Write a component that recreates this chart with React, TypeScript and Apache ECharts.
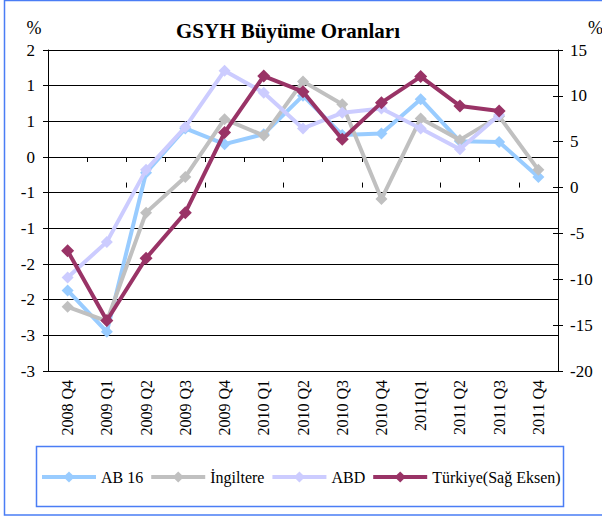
import React, { useEffect, useRef } from "react";
import * as echarts from "echarts";

const categories = ["2008 Q4", "2009 Q1", "2009 Q2", "2009 Q3", "2009 Q4", "2010 Q1", "2010 Q2", "2010 Q3", "2010 Q4", "2011Q1", "2011 Q2", "2011 Q3", "2011 Q4"];
const ab16 = [-1.87, -2.45, -0.22, 0.4, 0.18, 0.32, 0.86, 0.31, 0.33, 0.81, 0.22, 0.21, -0.28];
const ingiltere = [-2.1, -2.3, -0.78, -0.28, 0.53, 0.3, 1.06, 0.74, -0.59, 0.54, 0.24, 0.57, -0.18];
const abd = [-1.69, -1.19, -0.18, 0.42, 1.21, 0.9, 0.4, 0.62, 0.68, 0.4, 0.11, 0.59, null];
const turkiye = [-6.9, -14.5, -7.7, -2.74, 6.0, 12.16, 10.45, 5.26, 9.26, 12.1, 8.9, 8.35, null];

const seriesNames = ["AB 16", "İngiltere", "ABD", "Türkiye(Sağ Eksen)"];
const seriesColors = ["#99CCFF", "#C0C0C0", "#CCCCFF", "#993366"];

const FONT = "'Liberation Serif', 'Times New Roman', serif";

function leftFmt(v: number) {
  const r = Math.sign(v) * Math.round(Math.abs(v));
  return String(r === 0 ? 0 : r);
}

export default function App() {
  const ref = useRef<HTMLDivElement>(null);
  useEffect(() => {
    if (!ref.current) return;
    const chart = echarts.init(ref.current, null, { renderer: "svg" });
    const values = [ab16, ingiltere, abd, turkiye];
    chart.setOption({
      animation: false,
      textStyle: { fontFamily: FONT },
      grid: { left: 48, right: 44, top: 50, bottom: 150, containLabel: false },
      graphic: [
        {
          type: "rect",
          shape: { x: 4.5, y: 0.5, width: 640, height: 514.5 },
          style: { fill: "none", stroke: "#4A7DF5", lineWidth: 1.5 },
          silent: true,
        },
        {
          type: "rect",
          shape: { x: 36.5, y: 446.5, width: 527, height: 60 },
          style: { fill: "none", stroke: "#4A7DF5", lineWidth: 1.5 },
          silent: true,
        },
        {
          type: "text",
          x: 288,
          y: 31,
          style: { text: "GSYH Büyüme Oranları", font: `bold 21px ${FONT}`, fill: "#000", textAlign: "center", textVerticalAlign: "middle" },
        },
        {
          type: "text",
          x: 34,
          y: 28,
          style: { text: "%", font: `18px ${FONT}`, fill: "#000", textAlign: "center", textVerticalAlign: "middle" },
        },
        {
          type: "text",
          x: 588,
          y: 28,
          style: { text: "%", font: `18px ${FONT}`, fill: "#000", textAlign: "left", textVerticalAlign: "middle" },
        },
      ],
      legend: {
        left: 40,
        top: 469,
        padding: 0,
        itemWidth: 54,
        itemHeight: 14,
        itemGap: 6,
        data: seriesNames,
        lineStyle: { width: 4 },
        textStyle: { fontFamily: FONT, fontSize: 16, color: "#000" },
      },
      xAxis: [
        {
          type: "category",
          data: categories,
          boundaryGap: true,
          axisLine: { show: true, lineStyle: { color: "#000", width: 1 } },
          axisTick: { show: true, inside: false, length: 5, lineStyle: { color: "#000" } },
          axisLabel: { rotate: 90, fontSize: 16, fontFamily: FONT, color: "#000", margin: 9, interval: 0 },
          splitLine: { show: false },
        },
        {
          type: "category",
          data: categories,
          position: "bottom",
          boundaryGap: true,
          axisLine: { show: false },
          axisTick: { show: true, inside: true, length: 5, lineStyle: { color: "#000" } },
          axisLabel: { show: false },
          splitLine: { show: false },
        },
      ],
      yAxis: [
        {
          type: "value",
          position: "left",
          min: -3,
          max: 1.5,
          interval: 0.5,
          axisLine: { show: true, lineStyle: { color: "#000", width: 1 } },
          axisTick: { show: true, inside: false, length: 5, lineStyle: { color: "#000" } },
          axisLabel: { fontSize: 17, fontFamily: FONT, color: "#000", margin: 13, formatter: leftFmt },
          splitLine: { show: true, lineStyle: { color: "#000", width: 1 } },
        },
        {
          type: "value",
          position: "right",
          min: -20,
          max: 15,
          interval: 5,
          axisLine: { show: true, lineStyle: { color: "#000", width: 1 } },
          axisTick: { show: true, inside: false, length: 5, lineStyle: { color: "#000" } },
          axisLabel: { fontSize: 17, fontFamily: FONT, color: "#000", margin: 12 },
          splitLine: { show: false },
        },
        {
          type: "value",
          position: "right",
          min: -20,
          max: 15,
          interval: 5,
          axisLine: { show: false },
          axisTick: { show: true, inside: true, length: 5, lineStyle: { color: "#000" } },
          axisLabel: { show: false },
          splitLine: { show: false },
        },
      ],
      series: seriesNames.map((name, i) => ({
        name,
        type: "line",
        data: values[i],
        yAxisIndex: i === 3 ? 1 : 0,
        symbol: "diamond",
        symbolSize: i === 3 ? 13 : 12,
        connectNulls: false,
        lineStyle: { color: seriesColors[i], width: 4 },
        itemStyle: { color: seriesColors[i] },
        z: 2 + i,
      })),
    });
    return () => chart.dispose();
  }, []);
  return <div ref={ref} style={{ position: "fixed", left: 0, top: 0, width: 602, height: 521, background: "#fff" }} />;
}
